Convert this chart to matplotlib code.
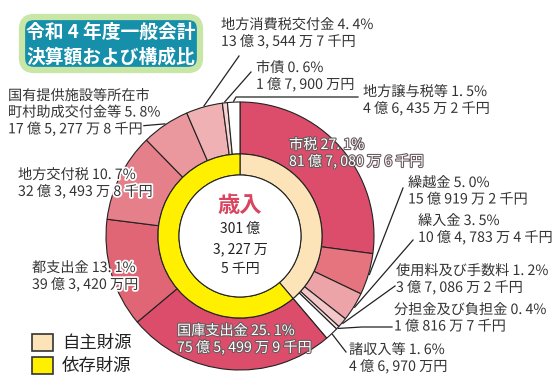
import numpy as np
import matplotlib
matplotlib.use("Agg")
import matplotlib.pyplot as plt
import matplotlib.patheffects as pe
from matplotlib.patches import FancyBboxPatch, Rectangle, Circle

plt.rcParams['font.family'] = ['Noto Sans CJK JP', 'DejaVu Sans']

W, H = 552, 389

# outer ring, clockwise from the top
items = ["市税", "繰越金", "繰入金", "使用料及び手数料", "分担金及び負担金", "諸収入等",
         "国庫支出金", "都支出金", "地方交付税", "国有提供施設等所在市\n町村助成交付金等",
         "地方消費税交付金", "市債", "地方譲与税等"]
shares = [27.1, 5.0, 3.5, 1.2, 0.4, 1.6, 25.1, 13.1, 10.7, 5.8, 4.4, 0.6, 1.5]
amounts = ["81 億 7, 080 万 6 千円", "15 億 919 万 2 千円", "10 億 4, 783 万 4 千円",
           "3 億 7, 086 万 2 千円", "1 億 816 万 7 千円", "4 億 6, 970 万円",
           "75 億 5, 499 万 9 千円", "39 億 3, 420 万円", "32 億 3, 493 万 8 千円",
           "17 億 5, 277 万 8 千円", "13 億 3, 544 万 7 千円", "1 億 7, 900 万円",
           "4 億 6, 435 万 2 千円"]
own_source = [True] * 6 + [False] * 7

group_names = ["自主財源", "依存財源"]
group_values = [sum(s for s, o in zip(shares, own_source) if o),
                sum(s for s, o in zip(shares, own_source) if not o)]

outer_colors = ["#dc4d6b", "#e6747f", "#eda4a9", "#f4c7c9", "#f9e0e0", "#ffffff",
                "#dc4d6b", "#e06676", "#e57f89", "#ea979d", "#efb1b4", "#f7d3d4", "#ffffff"]
group_colors = ["#fde4b8", "#fff000"]

cx, cy = 240, 236          # centre in image pixels (y down)
r_out, r_mid, r_in = 134, 82, 61


def iy(y):
    return H - y


def fmt_pct(v):
    a, b = f"{v:.1f}".split(".")
    return f"{a}. {b}%"


fig = plt.figure(figsize=(W / 100, H / 100), dpi=100)
ax = fig.add_axes([0, 0, 1, 1])

edge = dict(edgecolor="#222222", linewidth=0.8)
ax.pie(shares, radius=r_out, center=(cx, iy(cy)), startangle=90, counterclock=False,
       colors=outer_colors, wedgeprops=dict(width=r_out - r_mid, **edge))
ax.pie(group_values, radius=r_mid, center=(cx, iy(cy)), startangle=90, counterclock=False,
       colors=group_colors, wedgeprops=dict(width=r_mid - r_in, **edge))
ax.add_patch(Circle((cx, iy(cy)), r_in, facecolor="white", **edge))

ax.set_xlim(0, W)
ax.set_ylim(0, H)
ax.set_aspect("equal")
ax.axis("off")

# mid angle of each wedge, clockwise from the top
cum = np.cumsum([0] + shares[:-1])
mid_deg = 360 * (cum + np.array(shares) / 2) / sum(shares)


def wedge_point(i, r=r_out):
    t = np.radians(mid_deg[i])
    return cx + r * np.sin(t), cy - r * np.cos(t)


# label anchors (left, centre of first line) and leader line start points
label_pos = {0: (289, 145), 1: (408, 183), 2: (418, 221), 3: (396, 271), 4: (394, 310),
             5: (349, 350), 6: (177, 331), 7: (32, 268), 8: (18, 175), 9: (8, 96),
             10: (221, 25), 11: (256, 68), 12: (363, 92)}
leader = {1: [(403, 188)], 2: [(413, 240)], 3: [(395, 286)], 4: [(392, 327), (362, 327)],
          5: [(346, 352)], 9: [(140, 126)], 10: [(239, 56)], 11: [(251, 72)],
          12: [(358, 97), (236, 97)]}

line_h = 16.5
for i, name in enumerate(items):
    x, y = label_pos[i]
    lines = name.split("\n")
    lines[-1] = lines[-1] + " " + fmt_pct(shares[i])
    lines.append(amounts[i])
    if i in (0, 6):
        color, fx = "white", [pe.withStroke(linewidth=1.6, foreground="#6a5a5e")]
    else:
        color, fx = "#333333", [pe.withStroke(linewidth=2.5, foreground="white")]
    for k, ln in enumerate(lines):
        ax.text(x, iy(y + k * line_h), ln, fontsize=10.2, color=color, ha="left",
                va="center", path_effects=fx, zorder=5)

for i, pts in leader.items():
    wx, wy = wedge_point(i, r_out + 1)
    xs = [p[0] for p in pts] + [wx]
    ys = [iy(p[1]) for p in pts] + [iy(wy)]
    ax.plot(xs, ys, color="#222222", lw=0.9, zorder=4)

# centre text
ax.text(cx, iy(205), "歳入", fontsize=16, fontweight="bold", color="#d9455f",
        ha="center", va="center")
for k, s in enumerate(["301 億", "3, 227 万", "5 千円"]):
    ax.text(cx, iy(229 + k * 20), s, fontsize=10, color="#222222", ha="center", va="center")

# title box
ax.add_patch(FancyBboxPatch((24, iy(68)), 174, 49, boxstyle="round,pad=2,rounding_size=12",
                            facecolor="#168fab", edgecolor="#c8e6a6", linewidth=4.5))
ax.text(111, iy(32), "令和 4 年度一般会計", fontsize=13.5, fontweight="bold",
        color="white", ha="center", va="center")
ax.text(111, iy(57), "決算額および構成比", fontsize=13.5, fontweight="bold",
        color="white", ha="center", va="center")

# legend
for k, (g, c) in enumerate(zip(group_names, group_colors)):
    top = 334 + k * 23
    ax.add_patch(Rectangle((32, iy(top + 17)), 21, 17, facecolor=c,
                           edgecolor="#333333", linewidth=1.2))
    ax.text(62, iy(top + 8.5), g, fontsize=12.5, color="#222222", ha="left", va="center")

fig.savefig("out.png", dpi=100)
